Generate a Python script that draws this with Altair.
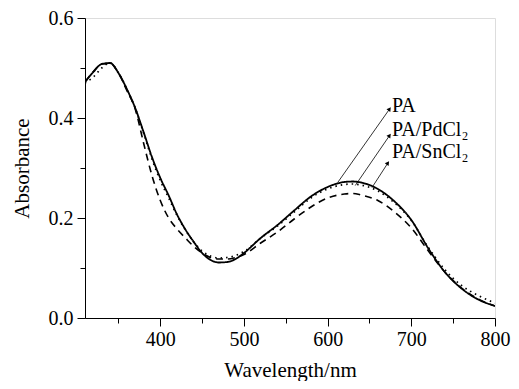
import altair as alt
import pandas as pd

wavelength = [310, 320, 330, 340, 350, 360, 370, 380, 390, 400, 410, 420, 430, 440, 450,
              460, 470, 480, 490, 500, 520, 540, 560, 580, 600, 620, 630, 640, 660, 680,
              700, 720, 740, 760, 780, 800]
pa = [0.472, 0.492, 0.508, 0.510, 0.490, 0.458, 0.420, 0.372, 0.322, 0.280, 0.245, 0.207,
      0.177, 0.152, 0.130, 0.116, 0.111, 0.112, 0.118, 0.130, 0.160, 0.186, 0.215, 0.243,
      0.262, 0.272, 0.273, 0.271, 0.258, 0.233, 0.196, 0.140, 0.092, 0.059, 0.037, 0.024]
pa_pd = [0.470, 0.482, 0.500, 0.510, 0.490, 0.458, 0.420, 0.370, 0.318, 0.275, 0.240, 0.205,
         0.176, 0.152, 0.134, 0.124, 0.120, 0.121, 0.125, 0.133, 0.160, 0.184, 0.212, 0.240,
         0.258, 0.267, 0.268, 0.266, 0.254, 0.230, 0.195, 0.142, 0.097, 0.065, 0.045, 0.030]
pa_sn = [0.472, 0.493, 0.508, 0.509, 0.490, 0.455, 0.418, 0.350, 0.285, 0.235, 0.200, 0.178,
         0.160, 0.143, 0.130, 0.121, 0.118, 0.118, 0.121, 0.127, 0.150, 0.172, 0.198, 0.222,
         0.240, 0.248, 0.249, 0.246, 0.235, 0.212, 0.180, 0.135, 0.092, 0.060, 0.038, 0.024]

series_names = ["PA", "PA/PdCl₂", "PA/SnCl₂"]
series_dash = [[1, 0], [1.5, 4], [7, 5]]
series_width = [1.8, 1.6, 1.6]

# annotation arrows (data coordinates)
arrow_x1 = [612, 633, 653]
arrow_y1 = [0.271, 0.265, 0.261]
arrow_x2 = [674, 674, 672]
arrow_y2 = [0.418, 0.365, 0.310]
label_x = [677, 677, 677]
label_y = [0.424, 0.377, 0.332]

x_ticks = [350, 400, 450, 500, 550, 600, 650, 700, 750, 800]
y_ticks = [0.0, 0.1, 0.2, 0.3, 0.4, 0.5, 0.6]

rows = []
for name, vals in zip(series_names, [pa, pa_pd, pa_sn]):
    for w, v in zip(wavelength, vals):
        rows.append({"wl": w, "abs": v, "series": name})
df = pd.DataFrame(rows)

ann = pd.DataFrame({"x1": arrow_x1, "y1": arrow_y1, "x2": arrow_x2, "y2": arrow_y2,
                    "lx": label_x, "ly": label_y, "label": series_names})

FONT = "Liberation Serif"

xscale = alt.Scale(domain=[310, 800], nice=False, zero=False)
yscale = alt.Scale(domain=[0, 0.6], nice=False)

x_major = "datum.value % 100 === 0"
y_major = "round(datum.value * 10) % 2 === 0"

xaxis = alt.Axis(values=x_ticks, title="Wavelength/nm", grid=False,
                 labelExpr=f"{x_major} ? datum.label : ''",
                 tickSize={"condition": {"test": x_major, "value": 8}, "value": 5},
                 labelFont=FONT, labelFontSize=20, titleFont=FONT, titleFontSize=21,
                 titleFontWeight="normal", labelColor="black", titleColor="black",
                 domainColor="black", tickColor="black", labelPadding=3, titlePadding=10,
                 labelFlush=False)
yaxis = alt.Axis(values=y_ticks, title="Absorbance", grid=False, format=".1f",
                 labelExpr=f"{y_major} ? datum.label : ''",
                 tickSize={"condition": {"test": y_major, "value": 8}, "value": 5},
                 labelFont=FONT, labelFontSize=20, titleFont=FONT, titleFontSize=21,
                 titleFontWeight="normal", labelColor="black", titleColor="black",
                 domainColor="black", tickColor="black", labelPadding=4, titlePadding=16,
                 labelFlush=False)

lines = alt.Chart(df).mark_line(color="black", interpolate="monotone", clip=True).encode(
    x=alt.X("wl:Q", scale=xscale, axis=xaxis),
    y=alt.Y("abs:Q", scale=yscale, axis=yaxis),
    strokeDash=alt.StrokeDash("series:N", scale=alt.Scale(domain=series_names, range=series_dash), legend=None),
    strokeWidth=alt.StrokeWidth("series:N", scale=alt.Scale(domain=series_names, range=series_width), legend=None),
)

arrows = alt.Chart(ann).mark_rule(color="black", strokeWidth=0.8).encode(
    x="x1:Q", y="y1:Q", x2="x2:Q", y2="y2:Q")
heads = alt.Chart(ann).mark_point(shape="triangle-up", filled=True, color="black", size=22, angle=36, opacity=1).encode(
    x="x2:Q", y="y2:Q")
labels = alt.Chart(ann).mark_text(font=FONT, fontSize=20, align="left", baseline="middle", color="black").encode(
    x="lx:Q", y="ly:Q", text="label:N")

chart = alt.layer(lines, arrows, heads, labels).properties(
    width=410, height=300,
    autosize=alt.AutoSizeParams(type="none"),
    padding={"left": 77, "top": 10, "right": 16, "bottom": 63},
).configure_view(stroke="black", strokeWidth=1).configure_axis(
    labelFont=FONT, titleFont=FONT
).configure(font=FONT)

chart.save("out.html", embed_options={"renderer": "svg", "actions": False})
